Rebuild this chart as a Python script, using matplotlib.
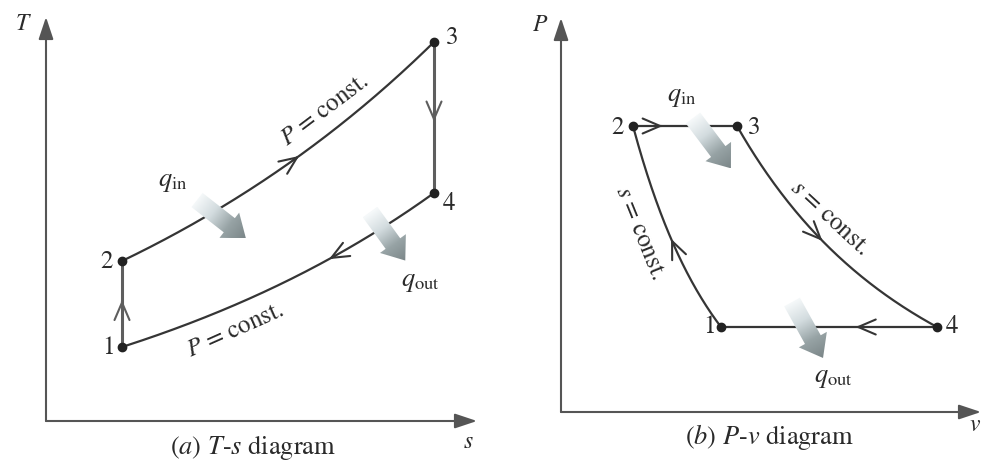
import numpy as np
import matplotlib
matplotlib.use("Agg")
import matplotlib.pyplot as plt
from matplotlib.patches import Polygon
from matplotlib.colors import LinearSegmentedColormap

plt.rcParams['font.family'] = ['STIXGeneral', 'Liberation Serif', 'DejaVu Serif']
plt.rcParams['mathtext.fontset'] = 'stix'

W, H = 981, 468

# T-s diagram, states 1..4 (s in kJ/kg.K, T in K)
s_pts = [0.76, 0.76, 3.88, 3.88]
T_pts = [248, 420, 858, 556]
s_lim = (0.0, 4.31)
T_lim = (100, 908)

# P-v diagram, states 1..4 (v in m3/kg, P in kPa)
v_pts = [1.40, 1.18, 1.44, 1.94]
P_pts = [145, 346, 346, 145]
v_lim = (1.0, 2.05)
P_lim = (60, 454)

state_labels = ['1', '2', '3', '4']

line_col = '#353535'
axis_col = '#555555'
heat_cmap = LinearSegmentedColormap.from_list(
    'heat', ['#f6f9fa', '#d3dcdf', '#97a3a5', '#7b8688'])


def isobar(sa, Ta, sb, Tb, n=200):
    # T = Ta exp((s - sa)/cp), cp fixed by the two end states
    cp = (sb - sa) / np.log(Tb / Ta)
    s = np.linspace(sa, sb, n)
    return s, Ta * np.exp((s - sa) / cp)


def isentrope(va, Pa, vb, Pb, n=200):
    # P v^k = const through both end states
    k = np.log(Pb / Pa) / np.log(va / vb)
    v = np.linspace(va, vb, n)
    return v, Pa * (v / va) ** (-k)


def straight(xa, ya, xb, yb, n=200):
    return np.linspace(xa, xb, n), np.linspace(ya, yb, n)


def mid_arrow(ax, x, y, frac, col):
    i = max(int(frac * (len(x) - 1)), 4)
    ax.annotate('', xy=(x[i], y[i]), xytext=(x[i - 4], y[i - 4]),
                arrowprops=dict(arrowstyle='->,head_length=0.7,head_width=0.3',
                                color=col, lw=1.5, mutation_scale=18,
                                shrinkA=0, shrinkB=0))


def axis_arrows(ax):
    kw = dict(arrowstyle='-|>,head_length=0.9,head_width=0.3', color=axis_col,
              lw=1.5, mutation_scale=15, shrinkA=0, shrinkB=0)
    ax.annotate('', xy=(0, 1), xytext=(0, 0), xycoords='axes fraction',
                arrowprops=kw)
    ax.annotate('', xy=(1, 0), xytext=(0, 0), xycoords='axes fraction',
                arrowprops=kw)


def ftext(x, y, txt, **kw):
    kw.setdefault('ha', 'center')
    kw.setdefault('va', 'center')
    kw.setdefault('fontsize', 17)
    fig.text(x / W, 1 - y / H, txt, color='#2a2a2a', **kw)


fig = plt.figure(figsize=(W / 100, H / 100), dpi=100)
ax1 = fig.add_axes([46 / W, 47 / H, 431 / W, 404 / H])
ax2 = fig.add_axes([561 / W, 56 / H, 420 / W, 394 / H])
for ax, xl, yl in ((ax1, s_lim, T_lim), (ax2, v_lim, P_lim)):
    ax.set_xlim(*xl)
    ax.set_ylim(*yl)
    ax.set_axis_off()
    axis_arrows(ax)

# ---- T-s ----
p12 = straight(s_pts[0], T_pts[0], s_pts[1], T_pts[1])
p23 = isobar(s_pts[1], T_pts[1], s_pts[2], T_pts[2])
p34 = straight(s_pts[2], T_pts[2], s_pts[3], T_pts[3])
s41, T41 = isobar(s_pts[0], T_pts[0], s_pts[3], T_pts[3])
p41 = (s41[::-1], T41[::-1])

ax1.plot(*p12, color='#5e5e5e', lw=2.2)
ax1.plot(*p34, color='#5e5e5e', lw=2.2)
ax1.plot(*p23, color=line_col, lw=1.6)
ax1.plot(*p41, color=line_col, lw=1.6)
mid_arrow(ax1, *p12, 0.55, '#5e5e5e')
mid_arrow(ax1, *p23, 0.57, line_col)
mid_arrow(ax1, *p34, 0.53, '#5e5e5e')
mid_arrow(ax1, *p41, 0.34, line_col)
ax1.plot(s_pts, T_pts, 'o', ms=6, color='#222222', zorder=5, clip_on=False)
offs1 = [(-14, -1), (-16, -1), (18, 4), (15, -11)]
for lab, x, y, o in zip(state_labels, s_pts, T_pts, offs1):
    ax1.annotate(lab, (x, y), xytext=o, textcoords='offset pixels',
                 ha='center', va='center', fontsize=18, color='#2a2a2a')

# ---- P-v ----
q12 = isentrope(v_pts[0], P_pts[0], v_pts[1], P_pts[1])
q23 = straight(v_pts[1], P_pts[1], v_pts[2], P_pts[2])
q34 = isentrope(v_pts[2], P_pts[2], v_pts[3], P_pts[3])
q41 = straight(v_pts[3], P_pts[3], v_pts[0], P_pts[0])
for q in (q12, q23, q34, q41):
    ax2.plot(*q, color=line_col, lw=1.6)
mid_arrow(ax2, *q12, 0.57, line_col)
mid_arrow(ax2, *q23, 0.29, line_col)
mid_arrow(ax2, *q34, 0.43, line_col)
mid_arrow(ax2, *q41, 0.38, line_col)
ax2.plot(v_pts, P_pts, 'o', ms=6, color='#222222', zorder=5, clip_on=False)
offs2 = [(-12, 0), (-15, -2), (17, -2), (15, 0)]
for lab, x, y, o in zip(state_labels, v_pts, P_pts, offs2):
    ax2.annotate(lab, (x, y), xytext=o, textcoords='offset pixels',
                 ha='center', va='center', fontsize=18, color='#2a2a2a')

# ---- heat arrows (tail in data units, angle deg, length px) ----
heat = [(ax1, 1.51, 542, -38, 62), (ax1, 3.24, 518, -54, 60),
        (ax2, 1.33, 354, -53, 63), (ax2, 1.5775, 170, -61, 64)]
ov = fig.add_axes([0, 0, 1, 1], zorder=3)
ov.set_axis_off()
for ax, x0, y0, ang, L in heat:
    t = ax.transData.transform((x0, y0))
    u = np.array([np.cos(np.radians(ang)), np.sin(np.radians(ang))])
    nrm = np.array([-u[1], u[0]])
    w1, w2, hl = 9, 16, 21
    b = t + u * (L - hl)
    pts = [t + nrm * w1, b + nrm * w1, b + nrm * w2, t + u * L,
           b - nrm * w2, b - nrm * w1, t - nrm * w1]
    poly = Polygon(pts, closed=True, facecolor='none', edgecolor='none')
    ov.add_patch(poly)
    pts = np.array(pts)
    x_lo, y_lo = pts.min(axis=0)
    x_hi, y_hi = pts.max(axis=0)
    gx, gy = np.meshgrid(np.linspace(x_lo, x_hi, 80), np.linspace(y_lo, y_hi, 80))
    val = ((gx - t[0]) * u[0] + (gy - t[1]) * u[1]) / L
    im = ov.imshow(np.clip(val, 0, 1), extent=(x_lo, x_hi, y_lo, y_hi),
                   origin='lower', cmap=heat_cmap, vmin=0, vmax=1,
                   interpolation='bilinear', aspect='auto')
    im.set_clip_path(poly)
ov.set_xlim(0, W)
ov.set_ylim(0, H)

# ---- texts ----
ftext(23, 24, r'$T$')
ftext(468, 442, r'$s$')
ftext(253, 447, r'($a$) $T$-$s$ diagram', fontsize=19)
ftext(325, 110, r'$P$ = const.', rotation=37, rotation_mode='anchor', fontsize=18)
ftext(235, 330, r'$P$ = const.', rotation=24, rotation_mode='anchor', fontsize=18)
ftext(173, 182, r'$q_{\mathrm{in}}$', fontsize=19)
ftext(420, 282, r'$q_{\mathrm{out}}$', fontsize=19)

ftext(540, 25, r'$P$')
ftext(981, 425, r'$v$', ha='right')
ftext(769, 437, r'($b$) $P$-$v$ diagram', fontsize=19)
ftext(640, 233, r'$s$ = const.', rotation=-68, rotation_mode='anchor', fontsize=18)
ftext(830, 218, r'$s$ = const.', rotation=-43, rotation_mode='anchor', fontsize=18)
ftext(682, 97, r'$q_{\mathrm{in}}$', fontsize=19)
ftext(833, 378, r'$q_{\mathrm{out}}$', fontsize=19)

fig.savefig('out.png', dpi=100)
